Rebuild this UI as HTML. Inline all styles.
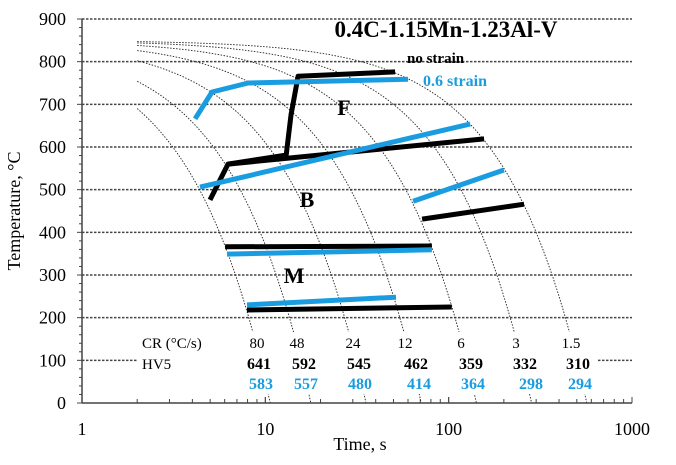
<!DOCTYPE html>
<html><head><meta charset="utf-8"><style>
body{margin:0;background:#fff;}
svg text{font-family:"Liberation Serif",serif;}
</style></head><body>
<svg id="c" width="676" height="460" viewBox="0 0 676 460"></svg>
<script>
const yTicks=[0,100,200,300,400,500,600,700,800,900];
const xTicks=[1,10,100,1000];
const coolRates=[80,48,24,12,6,3,1.5];
const hvNoStrain=[641,592,545,462,359,332,310];
const hvStrain=[583,557,480,414,364,298,294];
const blackLines=[
 [[4.99,476],[6.26,560],[13.0,581],[13.8,675],[15.1,766],[51,776]],
 [[6.26,560],[156,619]],
 [[71.6,431],[258,466]],
 [[6.03,366],[81,368]],
 [[7.94,218],[104,225]]
];
const blueLines=[
 [[4.14,666],[5.12,729],[8.05,750],[60,759]],
 [[4.40,506],[131,654]],
 [[64,473],[200,546]],
 [[6.18,349],[81,359]],
 [[7.94,230],[51.6,248]]
];
const X0=82,X1=632,Y0=403,Y1=19;
const sx=t=>X0+(X1-X0)*Math.log10(t)/3;
const sy=T=>Y0-(Y0-Y1)*T/900;
const NS="http://www.w3.org/2000/svg";
const svg=document.getElementById('c');
function mk(tag,attrs,txt){const e=document.createElementNS(NS,tag);for(const k in attrs)e.setAttribute(k,attrs[k]);if(txt!==undefined)e.textContent=txt;svg.appendChild(e);return e;}
yTicks.forEach(v=>{if(v===0)return;
 const g=mk('line',{x1:X0,x2:X1,y1:sy(v),y2:sy(v),stroke:'#444','stroke-width':1.5,'stroke-dasharray':'2.5,1.5'});
 
 
});
coolRates.forEach((cr,i)=>{
 let d='';const tEnd=850/cr;
 for(let k=0;k<=80;k++){const t=2*Math.pow(tEnd/2,k/80);let T=850-cr*t;if(T<0)T=0;d+=(k?'L':'M')+sx(t).toFixed(1)+','+sy(T).toFixed(1);}
 const p=mk('path',{d:d,fill:'none',stroke:'#222','stroke-width':0.9,'stroke-dasharray':'1.5,1.5'});
 
 
});
const wb=mk('rect',{x:138,y:332,width:460,height:62,fill:'#fff'});


function drawLines(arr,color,name){arr.forEach((pts,i)=>{
 const p=mk('polyline',{points:pts.map(q=>sx(q[0]).toFixed(1)+','+sy(q[1]).toFixed(1)).join(' '),fill:'none',stroke:color,'stroke-width':5,'stroke-linejoin':'round'});
 
 
});}
drawLines(blackLines,'#000','no-strain-line');
drawLines(blueLines,'#1a9de0','strain-line');
const ax=mk('line',{x1:X0,x2:X0,y1:Y1,y2:Y0,stroke:'#444','stroke-width':1.5});

const bx=mk('line',{x1:X0,x2:X1,y1:Y0,y2:Y0,stroke:'#444','stroke-width':1.5});

for(let v=0;v<=900;v+=20){const l=mk('line',{x1:X0-(v%100===0?5:3),x2:X0,y1:sy(v),y2:sy(v),stroke:'#444','stroke-width':1});
 }
yTicks.forEach(v=>{const t=mk('text',{x:66,y:sy(v)+6,'text-anchor':'end','font-size':18},String(v));
 });
for(let d=1;d<1000;d*=10)for(let m=1;m<=10;m++){const l=mk('line',{x1:sx(d*m),x2:sx(d*m),y1:Y0,y2:Y0-(m===1||m===10?6:4),stroke:'#444','stroke-width':1});
 }
xTicks.forEach(v=>{const t=mk('text',{x:sx(v),y:435,'text-anchor':'middle','font-size':18},String(v));
 });
const xt=mk('text',{x:360,y:450,'text-anchor':'middle','font-size':18},'Time, s');

const yt=mk('text',{x:20,y:211,'text-anchor':'middle','font-size':18,transform:'rotate(-90 20 211)'},'Temperature, °C');

const crX=[257,297,353,405,461,516,571];
const hbX=[259,304,359,416,471,525,578];
const hsX=[261,306,360,419,473,531,580];
const c1=mk('text',{x:142,y:348,'font-size':15},'CR (°C/s)');
const c2=mk('text',{x:142,y:369,'font-size':15},'HV5');
coolRates.forEach((cr,i)=>{
 const a=mk('text',{x:crX[i],y:348,'text-anchor':'middle','font-size':15},String(cr));
 const b=mk('text',{x:hbX[i],y:369,'text-anchor':'middle','font-size':16,'font-weight':'bold'},String(hvNoStrain[i]));
 const c=mk('text',{x:hsX[i],y:389,'text-anchor':'middle','font-size':16,'font-weight':'bold',fill:'#1a9de0'},String(hvStrain[i]));
});
const tt=mk('text',{x:446,y:37,'text-anchor':'middle','font-size':23,'font-weight':'bold'},'0.4C-1.15Mn-1.23Al-V');
const l1=mk('text',{x:407,y:63,'font-size':15,'font-weight':'bold'},'no strain');
const l2=mk('text',{x:423,y:86,'font-size':16,'font-weight':'bold',fill:'#1a9de0'},'0.6 strain');
[['F',344,115],['B',307,207],['M',294,283]].forEach(q=>{const e=mk('text',{x:q[1],y:q[2],'text-anchor':'middle','font-size':22,'font-weight':'bold'},q[0]);
 });
</script>
</body></html>
